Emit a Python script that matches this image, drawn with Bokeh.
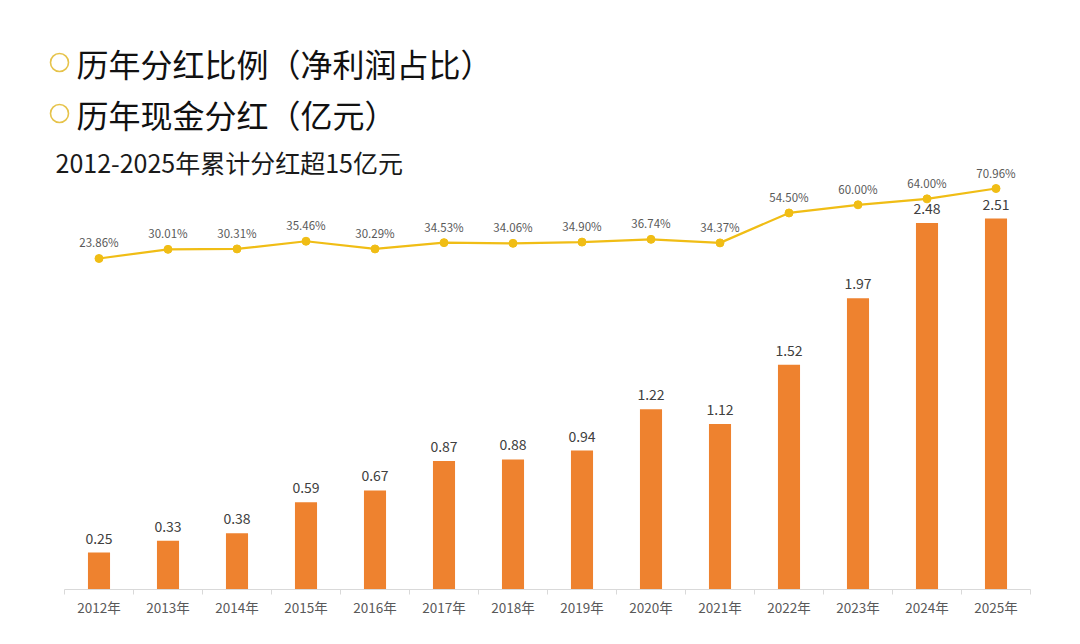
from bokeh.plotting import figure
from bokeh.models import Range1d, LinearAxis, FixedTicker, Label, ColumnDataSource
from bokeh.embed import file_html
from bokeh.resources import INLINE
from bokeh.core.properties import value

# data
years = ["2012年", "2013年", "2014年", "2015年", "2016年", "2017年", "2018年",
         "2019年", "2020年", "2021年", "2022年", "2023年", "2024年", "2025年"]
dividends = [0.25, 0.33, 0.38, 0.59, 0.67, 0.87, 0.88, 0.94, 1.22, 1.12, 1.52, 1.97, 2.48, 2.51]
payout_pct = [23.86, 30.01, 30.31, 35.46, 30.29, 34.53, 34.06, 34.90, 36.74, 34.37,
              54.50, 60.00, 64.00, 70.96]
title1 = "历年分红比例（净利润占比）"
title2 = "历年现金分红（亿元）"
subtitle = "2012-2025年累计分红超15亿元"

BAR = "#EE822F"
GOLD = "#F0BD15"
FONT = "Noto Sans CJK SC"

W, H = 1072, 636
FRAME_H = 581
PX_X = 69.0
X0 = -56 / PX_X
YMAX = FRAME_H / 147.8

# page pixel -> data helpers (for decorations only)
def dx(px):
    return X0 + (px - 8) / PX_X

def dy(py):
    return (589 - py) / FRAME_H * YMAX

xc = [i + 0.5 for i in range(len(years))]
src = ColumnDataSource(data=dict(
    x=xc, div=dividends, pct=payout_pct,
    div_lbl=["%.2f" % v for v in dividends],
    pct_lbl=["%.2f%%" % v for v in payout_pct],
))

p = figure(width=W, height=H, output_backend="svg", toolbar_location=None,
           x_range=Range1d(X0, X0 + (W - 8) / PX_X), y_range=Range1d(0, YMAX),
           x_axis_location=None, y_axis_location=None,
           min_border_left=8, min_border_right=0, min_border_top=8, min_border_bottom=47)
p.extra_y_ranges = {"pct": Range1d(-198.9, 192.1)}
p.grid.visible = False
p.outline_line_color = None
p.background_fill_color = "white"

# x axis with boundary ticks
ax = LinearAxis(ticker=FixedTicker(ticks=xc, minor_ticks=list(range(len(years) + 1))),
                bounds=(0, len(years)))
ax.major_label_overrides = {x: y for x, y in zip(xc, years)}
ax.axis_line_color = "#D9D9D9"
ax.major_tick_line_color = None
ax.major_tick_out = 0
ax.major_tick_in = 0
ax.minor_tick_line_color = "#D9D9D9"
ax.minor_tick_out = 5
ax.minor_tick_in = 0
ax.major_label_standoff = 2
ax.major_label_text_font = FONT
ax.major_label_text_font_size = "13.5px"
ax.major_label_text_color = "#595959"
p.add_layout(ax, "below")

# bars
p.vbar(x="x", top="div", width=0.32, source=src, fill_color=BAR, line_color=None)
p.text(x="x", y="div", text="div_lbl", source=src, text_align="center",
       text_baseline="bottom", y_offset=-9, text_font=value(FONT),
       text_font_size="14px", text_color="#404040")

# payout line
p.line(x="x", y="pct", source=src, y_range_name="pct", line_color=GOLD, line_width=2.2)
p.scatter(x="x", y="pct", source=src, y_range_name="pct", size=8,
          fill_color=GOLD, line_color=GOLD)
p.text(x="x", y="pct", text="pct_lbl", source=src, y_range_name="pct",
       text_align="center", text_baseline="bottom", y_offset=-8,
       text_font=value(FONT), text_font_size="11.5px", text_color="#595959")

# headings
p.scatter(x=[dx(59), dx(59)], y=[dy(62), dy(113)], size=18, fill_color=None,
          line_color="#E6C34A", line_width=1.6)
for txt, py in [(title1, 62), (title2, 113)]:
    p.add_layout(Label(x=dx(76), y=dy(py), text=txt, text_font=FONT,
                       text_font_size="32px", text_color="#111111",
                       text_baseline="middle", text_font_style="normal"))
p.add_layout(Label(x=dx(55), y=dy(161), text=subtitle, text_font=FONT,
                   text_font_size="25px", text_color="#1a1a1a",
                   text_baseline="middle"))

open("out.html", "w").write(file_html(p, INLINE))
